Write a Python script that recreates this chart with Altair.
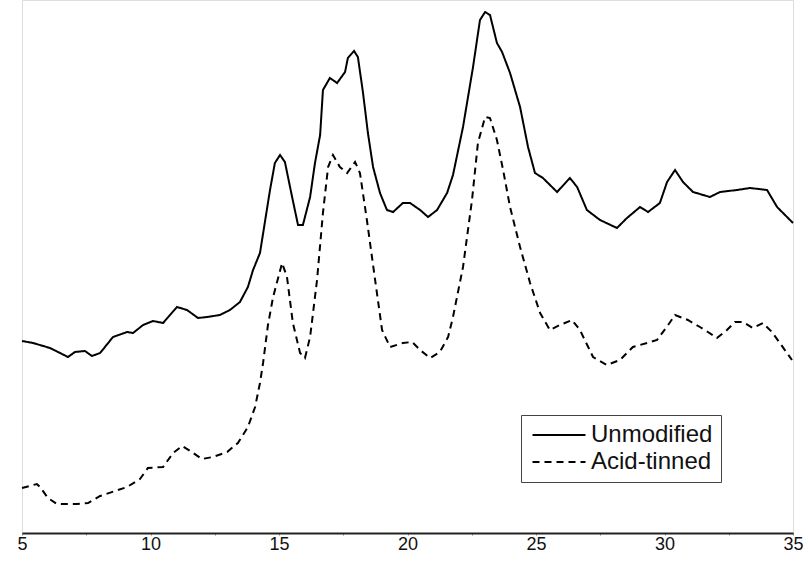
import altair as alt
import pandas as pd

# 2-theta (degrees) and intensity (arbitrary units)
unmod_x = [5.00, 5.43, 6.09, 6.79, 7.06, 7.45, 7.72, 8.04, 8.54, 9.09, 9.32, 9.71, 10.10, 10.49,
           11.03, 11.42, 11.85, 12.20, 12.70, 13.09, 13.48, 13.79, 13.99, 14.26, 14.65, 14.84,
           15.04, 15.23, 15.51, 15.74, 15.93, 16.21, 16.40, 16.60, 16.71, 16.98, 17.26, 17.57,
           17.68, 17.92, 18.07, 18.27, 18.46, 18.66, 18.93, 19.20, 19.44, 19.82, 20.10, 20.49,
           20.80, 21.15, 21.54, 21.77, 22.16, 22.55, 22.82, 23.02, 23.21, 23.48, 23.68, 23.99,
           24.38, 24.69, 24.96, 25.27, 25.82, 26.32, 26.60, 26.98, 27.49, 28.15, 28.54, 29.05,
           29.36, 29.82, 30.10, 30.41, 30.72, 31.11, 31.77, 32.16, 32.82, 33.33, 33.99, 34.38,
           34.69, 35.00]
unmod_y = [192, 190, 185, 176, 181, 182, 177, 180, 196, 201, 200, 208, 212, 210,
           226, 223, 215, 216, 218, 223, 231, 246, 263, 280, 343, 370,
           378, 371, 336, 308, 308, 336, 370, 398, 443, 455, 450, 461,
           475, 482, 476, 440, 400, 366, 340, 323, 321, 330, 330, 323,
           316, 323, 340, 358, 406, 466, 513, 521, 518, 490, 481, 460,
           426, 386, 360, 355, 341, 355, 346, 323, 313, 305, 315, 326,
           321, 330, 351, 363, 351, 341, 336, 341, 343, 345, 343, 326,
           318, 310]

acid_x = [5.00, 5.58, 5.70, 6.01, 6.36, 7.14, 7.57, 8.04, 8.62, 9.09, 9.59, 9.90, 10.49, 10.88,
          11.23, 11.61, 12.00, 12.43, 12.98, 13.40, 13.79, 14.07, 14.26, 14.38, 14.57, 14.77,
          15.12, 15.31, 15.54, 15.82, 16.01, 16.21, 16.48, 16.71, 16.91, 17.10, 17.37, 17.65,
          17.96, 18.15, 18.42, 18.74, 19.01, 19.32, 19.82, 20.18, 20.49, 20.88, 21.26, 21.58,
          21.77, 22.16, 22.51, 22.74, 23.02, 23.21, 23.48, 23.72, 23.99, 24.38, 24.77, 25.16,
          25.54, 25.93, 26.40, 26.71, 27.22, 27.76, 28.27, 28.77, 29.32, 29.71, 30.14, 30.41,
          30.91, 31.38, 31.69, 32.04, 32.43, 32.74, 33.05, 33.44, 33.83, 34.18, 34.49, 34.96]
acid_y = [45, 49, 46, 35, 29, 29, 30, 37, 42, 46, 54, 65, 66, 80,
          87, 81, 74, 76, 81, 90, 106, 126, 150, 170, 208, 236,
          270, 256, 210, 180, 175, 196, 253, 320, 366, 378, 366, 360,
          371, 360, 313, 253, 203, 186, 190, 191, 183, 175, 181, 196,
          216, 266, 333, 390, 416, 415, 393, 363, 326, 286, 250, 220,
          203, 208, 213, 203, 176, 168, 173, 186, 190, 193, 208, 218,
          213, 206, 201, 195, 203, 211, 211, 205, 210, 201, 190, 173]

series_names = ["Unmodified", "Acid-tinned"]
tick_values = [5, 7.5, 10, 12.5, 15, 17.5, 20, 22.5, 25, 27.5, 30, 32.5, 35]

df = pd.concat([
    pd.DataFrame({"x": unmod_x, "y": unmod_y, "s": series_names[0], "o": range(len(unmod_x))}),
    pd.DataFrame({"x": acid_x, "y": acid_y, "s": series_names[1], "o": range(len(acid_x))}),
])

chart = alt.Chart(df).mark_line(color="black", strokeWidth=2).encode(
    x=alt.X("x:Q", scale=alt.Scale(domain=[5, 35], nice=False, zero=False),
            axis=alt.Axis(title=None, values=tick_values, grid=False,
                          labelExpr="datum.value % 5 === 0 ? datum.label : ''",
                          labelFont="Liberation Sans", labelFontSize=18, labelColor="#111",
                          domainColor="#222", domainWidth=2, tickColor="#888", tickSize=2,
                          labelPadding=0, labelFlush=False)),
    y=alt.Y("y:Q", scale=alt.Scale(domain=[0, 533], nice=False, zero=False), axis=None),
    strokeDash=alt.StrokeDash("s:N", scale=alt.Scale(domain=series_names, range=[[1, 0], [7, 5]]),
                              legend=alt.Legend(title=None, orient="none", legendX=499, legendY=415,
                                                symbolType="M-3,0L3,0", symbolSize=312,
                                                symbolOffset=18,
                                                symbolStrokeWidth=2, symbolStrokeColor="black",
                                                labelFont="Liberation Sans", labelFontSize=24,
                                                labelColor="#111", labelOffset=20,
                                                strokeColor="#444", fillColor="white",
                                                padding=8, rowPadding=3, cornerRadius=0)),
    order="o:Q",
).properties(
    width=771, height=533,
    padding={"left": 22, "top": 0, "right": 15, "bottom": 30},
    autosize=alt.AutoSizeParams(type="none"),
).configure_view(stroke=None).configure(background="white")

chart.save("out.html", embed_options={"renderer": "svg", "actions": False})
